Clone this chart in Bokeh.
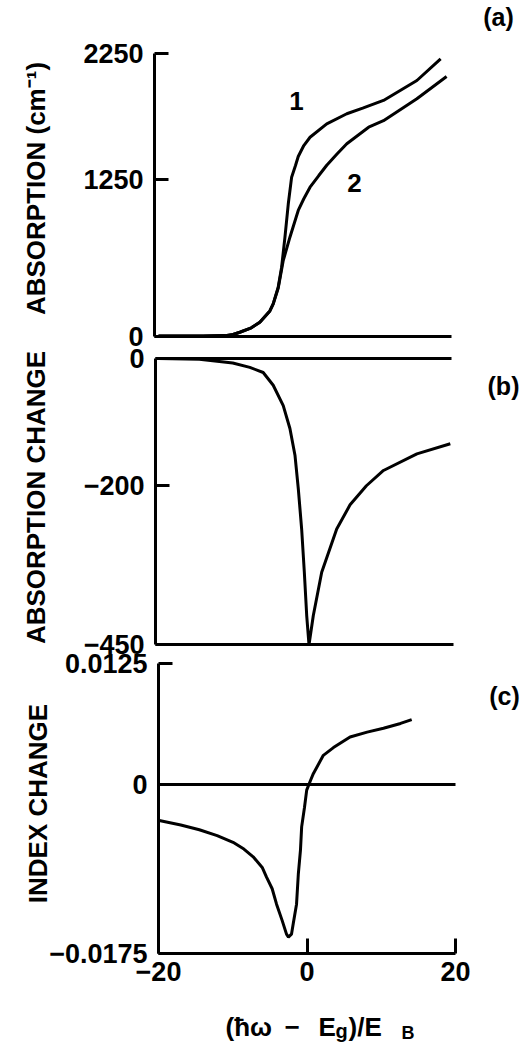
import math
from bokeh.plotting import figure
from bokeh.models import Range1d, FixedTicker, Label, LinearAxis
from bokeh.embed import file_html
from bokeh.resources import INLINE

# ---------------- data ----------------
# panel (a): absorption, curves 1 and 2
a1_x = [-20, -14, -11, -9.96, -9.05, -7.5, -6.35, -5.0, -4.55, -3.88, -3.42, -2.97,
        -2.52, -2.07, -1.55, -1.18, -0.43, 0.41, 2.66, 5.36, 7.5, 10.3, 14.8, 18.0]
a1_y = [0, 0, 3, 12, 30, 65, 110, 200, 256, 389, 548, 787,
        1053, 1265, 1358, 1430, 1517, 1583, 1690, 1770, 1815, 1876, 2035, 2208]
a2_x = [-20, -14, -11, -9.96, -9.05, -7.5, -6.35, -5.0, -4.55, -3.88, -3.2, -2.3,
        -1.18, -0.43, 0.41, 1.59, 2.66, 4.07, 5.36, 8.3, 10.3, 14.8, 18.8]
a2_y = [0, 0, 3, 12, 30, 65, 110, 200, 256, 380, 601, 787,
        1000, 1093, 1185, 1278, 1360, 1451, 1531, 1663, 1715, 1890, 2067]

# panel (b): absorption change
b_x = [-20, -14.5, -10, -7.7, -5.9, -4.55, -3.2, -2.3, -1.62, -1.17, -0.72, -0.36,
       -0.04, 0.27, 0.85, 1.98, 4.0, 5.8, 8.0, 10.3, 14.8, 19.3]
b_y = [0, -1, -7, -14, -22, -42, -74, -110, -152, -205, -268, -336,
       -404, -450, -404, -336, -268, -230, -200, -176, -150, -134]

# panel (c): index change
c_x = [-19.9, -17.0, -14.5, -12.1, -9.96, -8.5, -7.25, -6.03, -5.45, -4.69, -4.1,
       -3.34, -2.76, -2.5, -2.09, -1.85, -1.41, -1.17, -0.88, -0.72, -0.34, -0.04,
       0.47, 0.85, 2.2, 3.56, 5.8, 8.1, 10.3, 12.6, 14.1]
c_y = [-0.00374, -0.0042, -0.0047, -0.0053, -0.0060, -0.0067, -0.0075, -0.0086,
       -0.0096, -0.0108, -0.0124, -0.0141, -0.0155, -0.0158, -0.0155, -0.0144,
       -0.0124, -0.0093, -0.0068, -0.0044, -0.0024, -0.0006, 0.0004, 0.0011,
       0.0030, 0.0038, 0.0049, 0.0054, 0.0058, 0.0063, 0.0067]

a_ticks = [0, 1250, 2250]
a_tick_labels = ["0", "1250", "2250"]
b_ticks = [-450, -200, 0]
b_tick_labels = ["\u2212450", "\u2212200", "0"]
c_ticks = [-0.0175, 0, 0.0125]
c_tick_labels = ["\u22120.0175", "0", "0.0125"]
x_ticks = [-20, 0, 20]
x_tick_labels = ["\u221220", "0", "20"]

# ---------------- layout / style ----------------
FONT = "Liberation Sans"
LW = 3
W, H = 521, 1043


def px_range(p_hi, v_hi, p_lo, v_lo, lo_edge, hi_edge):
    """range so that value v_hi sits at pixel p_hi and v_lo at p_lo (pixels along the axis)"""
    s = (p_hi - p_lo) / (v_hi - v_lo)
    return Range1d(v_lo + (lo_edge - p_lo) / s, v_lo + (hi_edge - p_lo) / s)


# x: -20 at 158 px, 20 at 455 px; y ranges given in page pixels from the bottom
xr = px_range(455, 20, 158, -20, 0, W)
yr_a = px_range(H - 53, 2250, H - 335.5, 0, 0, H)
yr_b = px_range(H - 358, 0, H - 644.3, -450, 0, H)
yr_c = px_range(H - 663, 0.0125, H - 953, -0.0175, 0, H)

p = figure(width=W, height=H, x_range=xr, y_range=yr_a, output_backend="svg",
           toolbar_location=None, title=None, x_axis_location=None, y_axis_location=None,
           min_border=0)
p.extra_y_ranges = {"b": yr_b, "c": yr_c}
p.outline_line_color = None
p.grid.visible = False
p.background_fill_color = "white"
p.border_fill_color = "white"


def xpos(px):
    return xr.start + (xr.end - xr.start) * px / W


def style(ax, ticks=None, labels=None):
    ax.axis_line_width = LW
    ax.axis_line_color = "black"
    ax.major_tick_line_width = LW
    ax.major_tick_line_color = "black"
    ax.major_tick_out = 0
    ax.minor_tick_line_color = None
    ax.major_label_text_font = FONT
    ax.major_label_text_font_style = "bold"
    ax.major_label_text_font_size = "27px"
    ax.major_label_text_color = "black"
    if ticks is None:
        ax.ticker = FixedTicker(ticks=[])
        ax.major_tick_line_color = None
        ax.major_label_text_font_size = "0px"
    else:
        ax.ticker = FixedTicker(ticks=ticks)
        ax.major_label_overrides = {t: l for t, l in zip(ticks, labels)}


def yaxis(rname, loc_px, ticks, labels, bounds):
    kw = {} if rname is None else {"y_range_name": rname}
    ax = LinearAxis(fixed_location=xpos(loc_px), bounds=bounds, **kw)
    style(ax, ticks, labels)
    ax.major_tick_in = 14
    ax.major_label_standoff = 11
    p.add_layout(ax, "left")


def hline(rname, yval, x_from_px, x_to_px, ticks=None, labels=None):
    kw = {} if rname is None else {"y_range_name": rname}
    ax = LinearAxis(fixed_location=yval, bounds=(xpos(x_from_px), xpos(x_to_px)), **kw)
    style(ax, ticks, labels)
    ax.major_tick_in = 15
    ax.major_label_standoff = 8
    p.add_layout(ax, "below")


def lab(cx, cy, text, size="26px", angle=0, align="center", baseline="middle"):
    p.add_layout(Label(x=cx, y=H - cy, x_units="screen", y_units="screen",
                       text=text, angle=angle, text_align=align, text_baseline=baseline,
                       text_font=FONT, text_font_style="bold", text_font_size=size,
                       text_color="black"))


# ---- panel (a) ----
yaxis(None, 154, a_ticks, a_tick_labels, (0, 2250))
hline(None, 0, 154, 451)
p.line(a1_x, a1_y, line_color="black", line_width=LW)
p.line(a2_x, a2_y, line_color="black", line_width=LW)
lab(296, 100, "1")
lab(354, 182, "2")
lab(498, 16, "(a)", size="25px")
lab(35, 188, "ABSORPTION (cm\u207b\u00b9)", angle=math.pi / 2)

# ---- panel (b) ----
yaxis("b", 155, b_ticks, b_tick_labels, (-450, 0))
hline("b", 0, 155, 451)
hline("b", -450, 155, 453)
p.line(b_x, b_y, line_color="black", line_width=LW, y_range_name="b")
lab(503, 385, "(b)", size="25px")
lab(35, 497, "ABSORPTION CHANGE", angle=math.pi / 2)

# ---- panel (c) ----
yaxis("c", 158, c_ticks, c_tick_labels, (-0.0175, 0.0125))
hline("c", 0, 158, 455)
hline("c", -0.0175, 158, 455, x_ticks, x_tick_labels)
p.line(c_x, c_y, line_color="black", line_width=LW, y_range_name="c")
lab(504, 695, "(c)", size="25px")
lab(37, 803, "INDEX CHANGE", angle=math.pi / 2)
# x-axis title: (ħω − E_g)/E_B
lab(225, 1026, "(\u0127\u03c9", align="left", baseline="alphabetic")
lab(284, 1026, "\u2212", align="left", baseline="alphabetic")
lab(318, 1026, "E", align="left", baseline="alphabetic")
lab(335, 1030, "g", size="20px", align="left", baseline="alphabetic")
lab(348, 1026, ")/E", align="left", baseline="alphabetic")
lab(401, 1032, "B", size="18px", align="left", baseline="alphabetic")

open("out.html", "w").write(file_html(p, INLINE))
